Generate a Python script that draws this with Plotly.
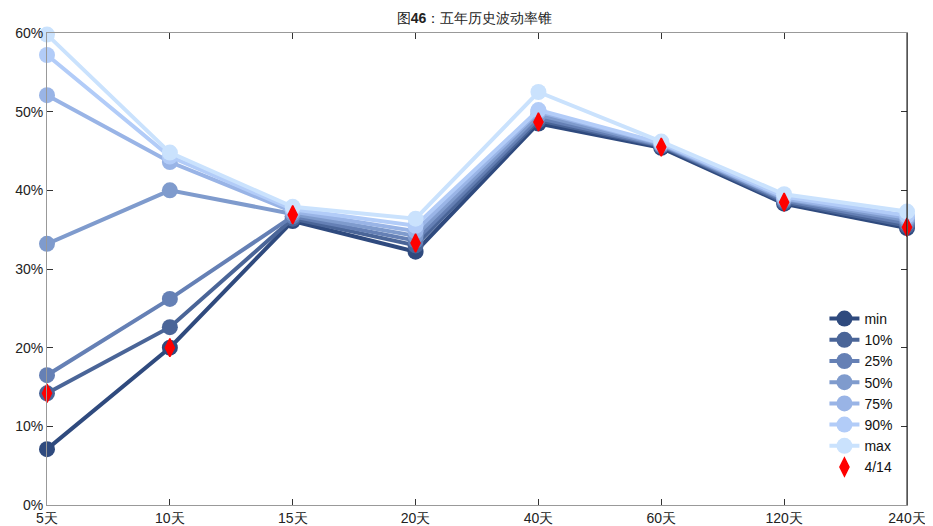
import plotly.graph_objects as go

categories = ["5天", "10天", "15天", "20天", "40天", "60天", "120天", "240天"]
series_names = ["min", "10%", "25%", "50%", "75%", "90%", "max"]
v_min = [7.1, 20.0, 36.1, 32.2, 48.5, 45.4, 38.3, 35.2]
v_p10 = [14.2, 22.6, 36.4, 33.0, 48.9, 45.6, 38.5, 35.5]
v_p25 = [16.5, 26.2, 36.7, 33.6, 49.2, 45.7, 38.7, 35.8]
v_p50 = [33.2, 40.0, 37.0, 34.2, 49.6, 45.8, 38.9, 36.2]
v_p75 = [52.1, 43.6, 37.3, 34.8, 50.0, 45.9, 39.0, 36.5]
v_p90 = [57.2, 44.3, 37.6, 35.5, 50.2, 46.0, 39.2, 36.8]
v_max = [59.8, 44.8, 37.9, 36.4, 52.5, 46.2, 39.5, 37.3]
v_current = [14.2, 20.0, 36.9, 33.3, 48.7, 45.5, 38.5, 35.3]
current_name = "4/14"

colors = ["#2F4A7E", "#4A6598", "#6580B5", "#7F9BCD", "#99B4E6", "#B2CCF8", "#CAE2FD"]
all_series = [v_min, v_p10, v_p25, v_p50, v_p75, v_p90, v_max]

xpos = list(range(len(categories)))
fig = go.Figure()
for name, vals, col in zip(series_names, all_series, colors):
    fig.add_trace(go.Scatter(
        x=xpos, y=[v / 100 for v in vals], name=name, mode="lines+markers",
        line=dict(color=col, width=4),
        marker=dict(symbol="circle", size=16, color=col),
        cliponaxis=False,
    ))
fig.add_trace(go.Scatter(
    x=xpos, y=[v / 100 for v in v_current], name=current_name, mode="markers",
    marker=dict(symbol="diamond-tall", size=13, color="#FF0000",
                line=dict(color="#FF0000", width=1.5)),
    cliponaxis=False,
))

fig.update_layout(
    width=933, height=526,
    margin=dict(l=39, r=34, t=25, b=29, autoexpand=False),
    paper_bgcolor="white", plot_bgcolor="white",
    font=dict(family="Liberation Sans, Arial, sans-serif", size=14, color="#222"),
    title=dict(text="图<b>46</b>：五年历史波动率锥", x=0.5, xanchor="center",
               y=0.981, yanchor="middle", font=dict(size=14, color="#222"),
               yref="container", automargin=False),
    showlegend=True,
    legend=dict(x=0.904, y=0.428, xanchor="left", yanchor="top",
                bgcolor="rgba(0,0,0,0)", font=dict(size=14, color="#111"),
                itemwidth=30, tracegroupgap=0),
    xaxis=dict(range=[0, 7], tickvals=xpos, ticktext=categories, automargin=False,
               showgrid=False, zeroline=False, showline=True,
               linecolor="#999", linewidth=1, mirror="allticks",
               ticks="inside", ticklen=6, tickcolor="#333", tickfont=dict(size=14)),
    yaxis=dict(range=[0, 0.6], tickformat=".0%", dtick=0.1, automargin=False,
               showgrid=False, zeroline=False, showline=True,
               linecolor="#999", linewidth=1, mirror="allticks",
               ticks="inside", ticklen=6, tickcolor="#333", tickfont=dict(size=14)),
    shapes=[dict(type="line", xref="paper", yref="paper", x0=1, x1=1, y0=0, y1=1,
                 line=dict(color="#111", width=1))],
)

fig.write_html("out.html")
